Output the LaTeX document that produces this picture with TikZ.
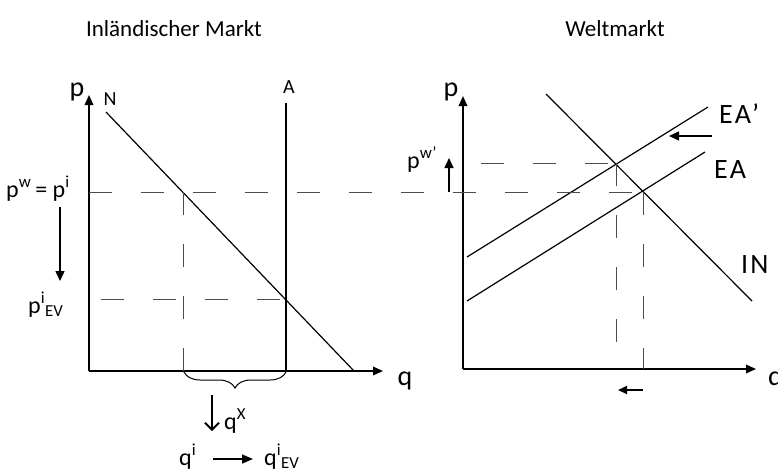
\documentclass[tikz,border=0pt]{standalone}
\usepackage{fontspec}
\setmainfont{Carlito}
\usetikzlibrary{arrows.meta,decorations.pathreplacing}
\begin{document}
\begin{tikzpicture}[x=1pt,y=-1pt,
  axis/.style={line width=1.8pt,-{Triangle[length=10pt,width=8.5pt]}},
  curve/.style={line width=1.2pt},
  guide/.style={line width=1pt,black!70,dash pattern=on 23pt off 29pt},
  shiftarrow/.style={line width=1.5pt,-{Triangle[length=10pt,width=9pt]}},
  big/.style={font=\fontsize{28}{30}\selectfont,inner sep=0pt,anchor=base},
  mid/.style={font=\fontsize{24}{26}\selectfont,inner sep=0pt,anchor=base},
  small/.style={font=\fontsize{20}{22}\selectfont,inner sep=0pt,anchor=base},
  title/.style={font=\fontsize{23}{25}\selectfont,inner sep=0pt,anchor=base},
  curvelbl/.style={font=\fontsize{28}{30}\selectfont\addfontfeature{LetterSpace=8},inner sep=0pt,anchor=base west}]
\useasboundingbox (0,0) rectangle (778,472);

% titles
\node[title] (t1) at (174,36) {Inländischer Markt};
\node[title] (t2) at (615,36) {Weltmarkt};

% ---------- left panel ----------
\coordinate (O1) at (89,371);
\coordinate (Y1) at (89,95);
\coordinate (X1) at (383,371);
\draw[axis] (O1) -- (Y1);
\draw[axis] (O1) -- (X1);
\node[big] (p1) at (77,96) {p};
\node[big] (q1) at (405,385) {q};

\coordinate (N0) at (106,112);
\coordinate (N1) at (354,371);
\draw[curve] (N0) -- (N1);
\node[small] (Nl) at (110,105) {N};

\coordinate (A0) at (286,103);
\coordinate (A1) at (286,371);
\draw[curve] (A0) -- (A1);
\node[small] (Al) at (289,93) {A};

\coordinate (E1) at (183.5,192);
\coordinate (E2) at (286,299.5);
\coordinate (E1b) at (183.5,371);
\coordinate (L1) at (101,299.5);
\draw[guide] (L1) -- (E2);
\draw[guide] (E1) -- (E1b);

\node[mid,anchor=base west] (pw) at (6,197) {p\textsuperscript{w}\,= p\textsuperscript{i}};
\coordinate (d0) at (60,207);
\coordinate (d1) at (60,281);
\draw[shiftarrow] (d0) -- (d1);
\node[mid,anchor=base west] (pev) at (28,313) {p\textsuperscript{i}\textsubscript{EV}};

\coordinate (B0) at (184,372);
\coordinate (B1) at (286,372);
\draw[decorate,decoration={brace,mirror,amplitude=16pt},line width=1pt] (B0) -- (B1);

\coordinate (qx0) at (212,395);
\coordinate (qx1) at (212,431);
\draw[line width=1.8pt,-{Straight Barb[length=7pt,width=14pt]}] (qx0) -- (qx1);
\node[mid,anchor=base west] (qx) at (224,429) {q\textsuperscript{X}};

\node[mid,anchor=base west] (qi) at (179,465) {q\textsuperscript{i}};
\coordinate (qa0) at (213,459);
\coordinate (qa1) at (253,459);
\draw[line width=1.3pt,-{Triangle[length=11pt,width=9pt]}] (qa0) -- (qa1);
\node[mid,anchor=base west] (qev) at (264,465) {q\textsuperscript{i}\textsubscript{EV}};

% ---------- right panel ----------
\coordinate (O2) at (463,369);
\coordinate (Y2) at (463,96);
\coordinate (X2) at (756,369);
\draw[axis] (O2) -- (Y2);
\draw[axis] (O2) -- (X2);
\node[big] (p2) at (451,96) {p};
\node[big,anchor=base west] (q2) at (768,385) {q};

\coordinate (EAa0) at (467,257);
\coordinate (EAa1) at (708,107);
\coordinate (EA0) at (467,301);
\coordinate (EA1) at (705,152);
\coordinate (IN0) at (546,94);
\coordinate (IN1) at (752,301);
\draw[curve] (EAa0) -- (EAa1);
\draw[curve] (EA0) -- (EA1);
\draw[curve] (IN0) -- (IN1);
\node[curvelbl] (lEAa) at (719,123) {EA’};
\node[curvelbl] (lEA) at (714,178) {EA};
\node[curvelbl] (lIN) at (741,273) {IN};

\coordinate (S1) at (616.5,163);
\coordinate (S0) at (643,192);
\coordinate (W1) at (89,192);
\coordinate (W2) at (481,163);
\draw[guide] (W1) -- (S0);
\draw[guide] (W2) -- (S1);
\draw[guide] (S1) -- (616.5,369) coordinate (S1b);
\draw[guide] (S0) -- (643,369) coordinate (S0b);

\node[mid,anchor=base west] (pw2) at (407,168) {p\textsuperscript{w’}};
\coordinate (u0) at (449,192);
\coordinate (u1) at (449,158);
\draw[shiftarrow] (u0) -- (u1);

\coordinate (l0) at (712,136);
\coordinate (l1) at (669,136);
\draw[shiftarrow] (l0) -- (l1);

\coordinate (b0) at (643,390);
\coordinate (b1) at (618,390);
\draw[line width=1.8pt,-{Triangle[length=9pt,width=8pt]}] (b0) -- (b1);
\end{tikzpicture}
\end{document}
